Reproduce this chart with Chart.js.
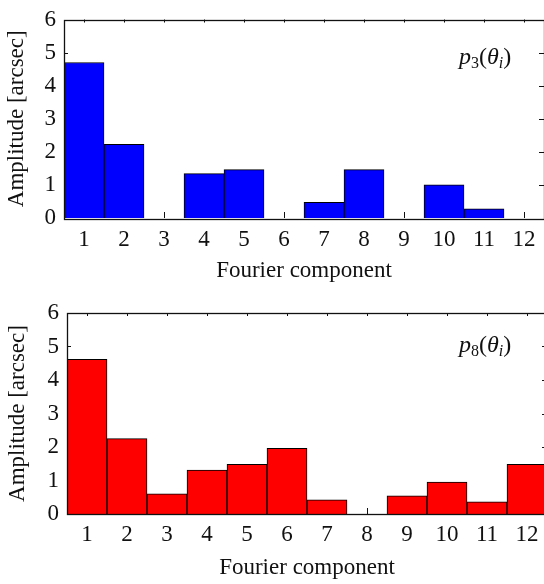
<!DOCTYPE html>
<html>
<head>
<meta charset="utf-8">
<script src="https://cdn.jsdelivr.net/npm/chart.js@4.4.1/dist/chart.umd.min.js"></script>
<style>
  html, body { margin: 0; padding: 0; background: #fff; overflow: hidden; }
  #wrap { position: relative; width: 544px; height: 584px; overflow: hidden; }
  canvas { position: absolute; left: 0; }
</style>
</head>
<body>
<div id="wrap">
  <canvas id="chartTop" width="548" height="292" style="top:0"></canvas>
  <canvas id="chartBottom" width="551" height="292" style="top:292px"></canvas>
</div>
<script>
// Données
const components = ['1', '2', '3', '4', '5', '6', '7', '8', '9', '10', '11', '12'];
const yTickValues = [0, 1, 2, 3, 4, 5, 6];
const ampP3 = [4.70, 2.23, 0, 1.34, 1.46, 0, 0.47, 1.46, 0, 1.00, 0.28, 0];
const ampP8 = [4.62, 2.25, 0.60, 1.31, 1.48, 1.96, 0.42, 0, 0.54, 0.95, 0.36, 1.48];

const FONT = "'Liberation Serif', 'Times New Roman', serif";
const SIZE = 23;
const INK = '#111';

// Cadre, graduations internes et étiquette p_n(θ_i)
const framePlugin = {
    id: 'frame',
    beforeDatasetsDraw(chart) {
        const { ctx, chartArea: a, scales: { x, y } } = chart;
        ctx.save();
        ctx.strokeStyle = INK;
        ctx.lineWidth = 1;
        ctx.beginPath();
        components.forEach((c, i) => {
            const px = Math.round(x.getPixelForValue(i)) + 0.5;
            ctx.moveTo(px, a.bottom);
            ctx.lineTo(px, a.bottom - 6);
            ctx.moveTo(px, a.top);
            ctx.lineTo(px, a.top + 3);
        });
        yTickValues.slice(1, -1).forEach(v => {
            const py = Math.round(y.getPixelForValue(v)) + 0.5;
            ctx.moveTo(a.left, py);
            ctx.lineTo(a.left + 4, py);
            ctx.moveTo(a.right, py);
            ctx.lineTo(a.right - 5, py);
        });
        ctx.stroke();
        ctx.restore();
    },
    afterDatasetsDraw(chart, args, opts) {
        const { ctx, chartArea: a } = chart;
        ctx.save();
        ctx.strokeStyle = INK;
        ctx.lineWidth = 1.3;
        ctx.strokeRect(Math.round(a.left) + 0.5, Math.round(a.top) + 0.5,
            Math.round(a.right - a.left), Math.round(a.bottom - a.top));

        // étiquette en italique avec indices
        const parts = [
            { t: 'p', f: 'italic 24px ' + FONT, dy: 0 },
            { t: opts.index, f: '16px ' + FONT, dy: 4 },
            { t: '(', f: '24px ' + FONT, dy: 0 },
            { t: 'θ', f: 'italic 24px ' + FONT, dy: 0 },
            { t: 'i', f: 'italic 16px ' + FONT, dy: 4 },
            { t: ')', f: '24px ' + FONT, dy: 0 }
        ];
        let tx = a.left + opts.dx;
        const ty = a.top + opts.dy;
        ctx.fillStyle = INK;
        ctx.textBaseline = 'alphabetic';
        ctx.textAlign = 'left';
        parts.forEach(p => {
            ctx.font = p.f;
            ctx.fillText(p.t, tx, ty + p.dy);
            tx += ctx.measureText(p.t).width;
        });
        ctx.restore();
    }
};

function makeChart(canvasId, values, color, cfg) {
    return new Chart(document.getElementById(canvasId), {
        type: 'bar',
        data: {
            labels: components,
            datasets: [{
                data: values,
                backgroundColor: color,
                borderColor: '#000',
                borderWidth: 1,
                categoryPercentage: 1,
                barPercentage: 1
            }]
        },
        options: {
            responsive: false,
            animation: false,
            events: [],
            layout: { padding: { top: cfg.padTop, right: 4, left: 0, bottom: 0 } },
            plugins: {
                legend: { display: false },
                tooltip: { enabled: false },
                frame: { index: cfg.index, dx: cfg.labelDx, dy: cfg.labelDy }
            },
            scales: {
                x: {
                    grid: { display: false, drawTicks: false },
                    border: { display: false },
                    ticks: {
                        color: INK,
                        font: { family: FONT, size: SIZE, lineHeight: 1 },
                        padding: cfg.xTickPad,
                        maxRotation: 0
                    },
                    title: {
                        display: true,
                        text: 'Fourier component',
                        color: INK,
                        font: { family: FONT, size: SIZE, lineHeight: 1 },
                        padding: { top: 0, bottom: cfg.xTitlePad }
                    },
                    afterFit(s) { s.height = cfg.xHeight; }
                },
                y: {
                    min: 0,
                    max: 6,
                    grid: { display: false, drawTicks: false },
                    border: { display: false },
                    afterBuildTicks(s) { s.ticks = yTickValues.map(v => ({ value: v })); },
                    ticks: {
                        color: INK,
                        font: { family: FONT, size: SIZE, lineHeight: 1 },
                        padding: 8
                    },
                    title: {
                        display: true,
                        text: 'Amplitude [arcsec]',
                        color: INK,
                        font: { family: FONT, size: SIZE, lineHeight: 1 },
                        padding: { top: cfg.yTitlePad, bottom: 0 }
                    },
                    afterFit(s) { s.width = cfg.yWidth; }
                }
            }
        },
        plugins: [framePlugin]
    });
}

makeChart('chartTop', ampP3, '#0000ff', {
    index: '3', padTop: 14, xHeight: 74, yWidth: 64,
    xTickPad: 10, xTitlePad: 10, yTitlePad: 5, labelDx: 395, labelDy: 44
});
makeChart('chartBottom', ampP8, '#ff0000', {
    index: '8', padTop: 21, xHeight: 70, yWidth: 67,
    xTickPad: 9, xTitlePad: 5, yTitlePad: 6, labelDx: 392, labelDy: 39
});
</script>
</body>
</html>
